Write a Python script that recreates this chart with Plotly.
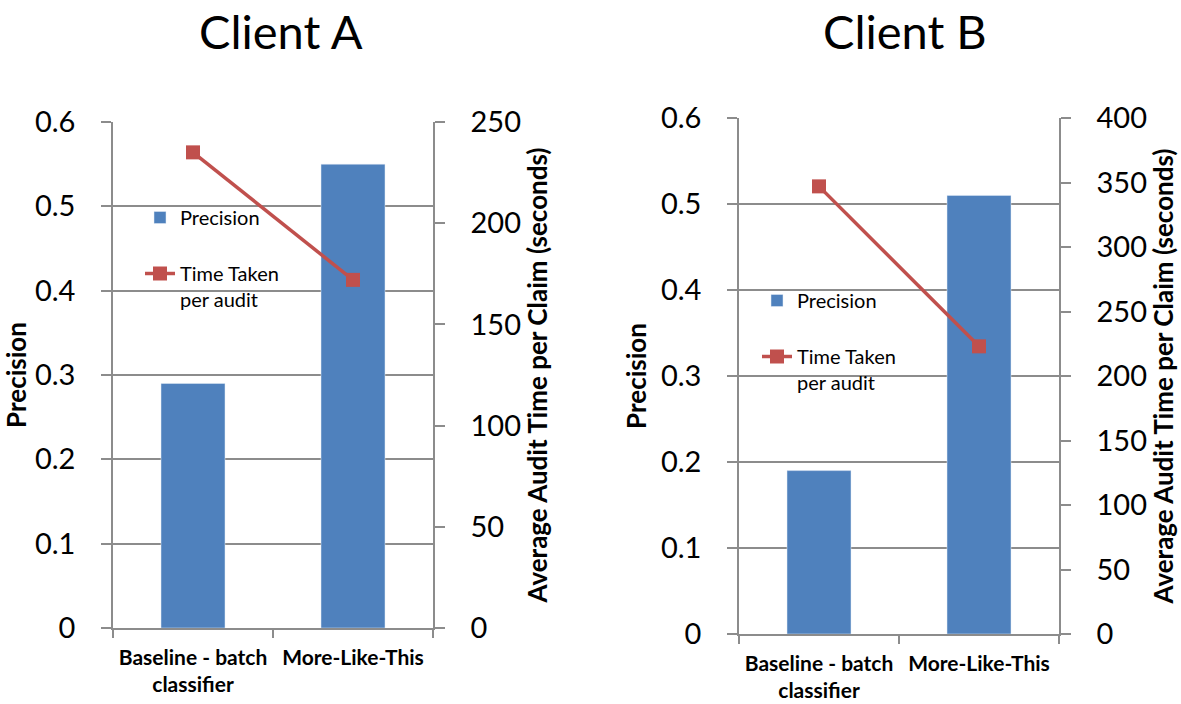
import plotly.graph_objects as go

# ---- data ----
categories = ["Baseline - batch<br>classifier", "More-Like-This"]
precision_a = [0.29, 0.55]
time_a = [235, 172]
precision_b = [0.19, 0.51]
time_b = [347, 223]
panel_titles = ["Client A", "Client B"]
precision_ticks = [0, 0.1, 0.2, 0.3, 0.4, 0.5, 0.6]
time_ticks_a = [0, 50, 100, 150, 200, 250]
time_ticks_b = [0, 50, 100, 150, 200, 250, 300, 350, 400]

W, H = 1181, 704
FONT = "Lato"
BLUE = "#4F81BD"
RED = "#C0504D"
GRID = "#8C8C8C"


def px_x(v):
    return v / W


def px_y(v):
    return 1 - v / H


fig = go.Figure()

# Panel A
fig.add_trace(go.Bar(x=categories, y=precision_a, name="Precision", marker_color=BLUE,
                     width=0.4, xaxis="x", yaxis="y", legend="legend", legendgroup="a1"))
fig.add_trace(go.Scatter(x=categories, y=time_a, name="Time Taken<br>per audit", mode="lines+markers",
                         line=dict(color=RED, width=3.5), marker=dict(symbol="square", size=14, color=RED),
                         xaxis="x", yaxis="y2", legend="legend", legendgroup="a2"))
# Panel B
fig.add_trace(go.Bar(x=categories, y=precision_b, name="Precision", marker_color=BLUE,
                     width=0.4, xaxis="x2", yaxis="y3", legend="legend2", legendgroup="b1"))
fig.add_trace(go.Scatter(x=categories, y=time_b, name="Time Taken<br>per audit", mode="lines+markers",
                         line=dict(color=RED, width=3.5), marker=dict(symbol="square", size=14, color=RED),
                         xaxis="x2", yaxis="y4", legend="legend2", legendgroup="b2"))

tick_font = dict(family=FONT, size=29, color="black")
title_font = dict(family=FONT, size=26, color="black", weight="bold")
cat_font = dict(family=FONT, size=21, color="black", weight="bold")

common_x = dict(type="category", range=[-0.5, 1.5], showline=True, linecolor=GRID, linewidth=1.5,
                ticks="outside", tickson="boundaries", ticklen=8, tickcolor=GRID, tickwidth=1.5,
                showgrid=False, tickfont=cat_font, ticklabelstandoff=10, automargin=False)
left_y = dict(range=[0, 0.6], tickvals=precision_ticks, ticktext=[("%g" % v) for v in precision_ticks],
              showline=True, linecolor=GRID, linewidth=1.5, ticks="outside", ticklen=10,
              tickcolor=GRID, tickwidth=1.5, showgrid=True, gridcolor=GRID, gridwidth=1.5,
              zeroline=False, tickfont=tick_font, ticklabelstandoff=20, automargin=False,
              title=dict(text="Precision", font=title_font, standoff=7))


def right_y(rng, tv, overlay):
    return dict(range=rng, tickvals=tv, overlaying=overlay, side="right",
                showline=True, linecolor=GRID, linewidth=1.5, ticks="outside", ticklen=10,
                tickcolor=GRID, tickwidth=1.5, showgrid=False, zeroline=False,
                tickfont=tick_font, ticklabelstandoff=20, automargin=False,
                title=dict(text="Average Audit Time per Claim (seconds)", font=title_font, standoff=7))


dom_ax = [px_x(113), px_x(433)]
dom_ay = [px_y(628), px_y(122)]
dom_bx = [px_x(739), px_x(1059)]
dom_by = [px_y(634), px_y(118)]

fig.update_layout(
    width=W, height=H,
    margin=dict(l=0, r=0, t=0, b=0, autoexpand=False),
    paper_bgcolor="white", plot_bgcolor="white",
    font=dict(family=FONT, color="black"),
    xaxis=dict(domain=dom_ax, anchor="y", **common_x),
    yaxis=dict(domain=dom_ay, anchor="x", **left_y),
    yaxis2=dict(anchor="x", **right_y([0, 250], time_ticks_a, "y")),
    xaxis2=dict(domain=dom_bx, anchor="y3", **common_x),
    yaxis3=dict(domain=dom_by, anchor="x2", **left_y),
    yaxis4=dict(anchor="x2", **right_y([0, 400], time_ticks_b, "y3")),
    legend=dict(x=px_x(140), y=px_y(198), xanchor="left", yanchor="top", bgcolor="rgba(0,0,0,0)",
                font=dict(family=FONT, size=20, color="black"), tracegroupgap=27, valign="top"),
    legend2=dict(x=px_x(757), y=px_y(281), xanchor="left", yanchor="top", bgcolor="rgba(0,0,0,0)",
                 font=dict(family=FONT, size=20, color="black"), tracegroupgap=27, valign="top"),
)

for title, cx in zip(panel_titles, [281, 905]):
    fig.add_annotation(text=title, x=px_x(cx), y=px_y(1), xref="paper", yref="paper",
                       xanchor="center", yanchor="top", showarrow=False,
                       font=dict(family=FONT, size=47, color="black"))

fig.write_html("out.html")
